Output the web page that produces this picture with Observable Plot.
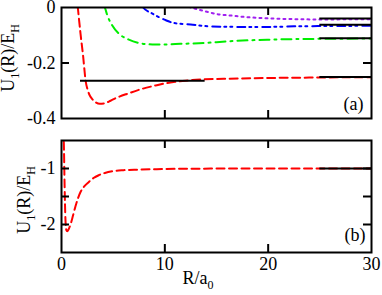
<!DOCTYPE html>
<html><head><meta charset="utf-8">
<script src="https://cdn.jsdelivr.net/npm/d3@7"></script>
<script src="https://cdn.jsdelivr.net/npm/@observablehq/plot@0.6"></script>
<style>
body{margin:0;background:#fff}
#c{width:382px;height:295px;position:relative;overflow:hidden}
#c svg{display:block;background:#fff;overflow:visible}
</style>
</head><body><div id="c"></div>
<script>
// ---------- data ----------
const xTickLabels = [0, 10, 20, 30];
const xInnerTicks = [10, 20];
const yTicksA = [0, -0.2, -0.4];
const yInnerTicksA = [-0.2];
const yTicksB = [-1, -2];
const yInnerTicksB = [-1, -1.5, -2];

// panel (a) curves
const redA_R = [1.45, 1.58, 1.84, 2.1, 2.33, 2.55, 2.75, 2.97, 3.29, 3.7, 4.1, 4.75, 5.23, 6.52, 7.82, 9.11, 10.4, 11.7, 13.0, 15.7, 19.9, 23.1, 26, 30];
const redA_U = [0.05, 0, -0.094, -0.178, -0.263, -0.299, -0.318, -0.330, -0.341, -0.347, -0.346, -0.336, -0.327, -0.309, -0.293, -0.281, -0.271, -0.265, -0.260, -0.257, -0.254, -0.253, -0.252, -0.251];
const greenA_R = [4.1, 4.2, 4.43, 4.9, 5.55, 6.52, 7.49, 8.79, 10.1, 11.5, 13.8, 16.05, 18.3, 19.9, 22.5, 24.8, 30];
const greenA_U = [0.01, 0, -0.028, -0.064, -0.094, -0.116, -0.128, -0.133, -0.133, -0.131, -0.128, -0.122, -0.118, -0.116, -0.114, -0.113, -0.112];
const blueA_R = [7.8, 7.9, 8.8, 10.1, 10.9, 12.5, 14.4, 17.7, 19.9, 22.5, 24.8, 30];
const blueA_U = [0.005, 0, -0.022, -0.046, -0.056, -0.061, -0.068, -0.070, -0.070, -0.068, -0.067, -0.066];
const violetA_R = [12.3, 12.5, 12.9, 13.8, 15.1, 16.4, 17.7, 19.3, 20.6, 22.5, 24.8, 30];
const violetA_U = [0.003, 0, -0.004, -0.013, -0.024, -0.029, -0.034, -0.038, -0.040, -0.042, -0.043, -0.042];

// reference levels (black)
const levelsA = [-1/4, -1/9, -1/16, -1/25];
const levelRange = [25, 30];
const boundA_U = -0.264;
const boundA_R = [1.84, 13.9];

// panel (b) curve
const redB_R = [0.18, 0.22, 0.3, 0.38, 0.47, 0.55, 0.7, 0.87, 1.1, 1.36, 1.6, 1.84, 2.2, 2.65, 3.1, 3.6, 4.2, 4.9, 6, 7.5, 9.8, 13, 20, 30];
const redB_U = [-0.3, -0.5, -1.3, -1.9, -2.1, -2.12, -2.08, -2.0, -1.85, -1.67, -1.53, -1.42, -1.32, -1.24, -1.17, -1.12, -1.08, -1.05, -1.03, -1.02, -1.01, -1.003, -1.0, -1.0];
const levelB = -1;

// ---------- helpers ----------
const zip = (R, U) => R.map((r, i) => ({R: r, U: U[i]}));
const FONT = "'Liberation Serif', 'Times New Roman', serif";
const W = 382, ML = 61, MR = 11;
const PW = W - ML - MR;
const TL = 8; // inner tick length
const fmt = d => String(d);

function innerTicks(xt, yt, PH) {
  return [
    Plot.tickX(xt, {x: d => d, insetBottom: PH - TL, strokeWidth: 2}),
    Plot.tickX(xt, {x: d => d, insetTop: PH - TL, strokeWidth: 2}),
    Plot.tickY(yt, {y: d => d, insetRight: PW - TL, strokeWidth: 2}),
    Plot.tickY(yt, {y: d => d, insetLeft: PW - TL, strokeWidth: 2})
  ];
}

function ylabel(svg, x, y) {
  const t = d3.select(svg).append("text")
    .attr("transform", `translate(${x},${y}) rotate(-90)`)
    .attr("text-anchor", "middle")
    .attr("font-size", 18).attr("fill", "black");
  t.append("tspan").text("U");
  t.append("tspan").attr("font-size", 12).attr("dy", 5).text("1");
  t.append("tspan").attr("dy", -5).text("(R)/E");
  t.append("tspan").attr("font-size", 12).attr("dy", 5).text("H");
}

function serifify(svg) {
  d3.select(svg).selectAll("text").attr("font-family", "Liberation Serif").style("font-family", FONT);
}

// ---------- panel (a) ----------
const HA = 130, MTA = 7, MBA = 12;
const PHA = HA - MTA - MBA;
const lineOpts = {x: "R", y: "U", strokeWidth: 2, curve: "monotone-x", clip: true};
const plotA = Plot.plot({
  width: W, height: HA,
  marginLeft: ML, marginRight: MR, marginTop: MTA, marginBottom: MBA,
  style: {fontFamily: FONT, fontSize: "18px", background: "white", color: "black", overflow: "visible"},
  x: {domain: [0, 30], axis: null},
  y: {domain: [-0.4, 0]},
  marks: [
    Plot.line(zip(redA_R, redA_U), {...lineOpts, stroke: "#ff0000", strokeDasharray: "8,4.5"}),
    Plot.line(zip(greenA_R, greenA_U), {...lineOpts, stroke: "#00ee00", strokeDasharray: "10,5,2,5"}),
    Plot.line(zip(blueA_R, blueA_U), {...lineOpts, stroke: "#0000ff", strokeDasharray: "8,4,2,4,2,5"}),
    Plot.line(zip(violetA_R, violetA_U), {...lineOpts, stroke: "#a020f0", strokeDasharray: "2,4"}),
    Plot.ruleY(levelsA, {x1: levelRange[0], x2: levelRange[1], stroke: "black", strokeWidth: 2}),
    Plot.ruleY([boundA_U], {x1: boundA_R[0], x2: boundA_R[1], stroke: "black", strokeWidth: 2}),
    ...innerTicks(xInnerTicks, yInnerTicksA, PHA),
    Plot.axisY(yTicksA, {tickSize: 0, tickPadding: 6, tickFormat: fmt, fontSize: 18, label: null}),
    Plot.frame({strokeWidth: 2}),
    Plot.text(["(a)"], {frameAnchor: "bottom-right", dx: -8, dy: -9, fontSize: 18, textAnchor: "end", lineAnchor: "bottom"})
  ]
});
ylabel(plotA, 14, 58);
serifify(plotA);

// ---------- panel (b) ----------
const HB = 165, MTB = 10, MBB = 43;
const PHB = HB - MTB - MBB;
const plotB = Plot.plot({
  width: W, height: HB,
  marginLeft: ML, marginRight: MR, marginTop: MTB, marginBottom: MBB,
  style: {fontFamily: FONT, fontSize: "18px", background: "white", color: "black", overflow: "visible"},
  x: {domain: [0, 30]},
  y: {domain: [-2.5, -0.5]},
  marks: [
    Plot.line(zip(redB_R, redB_U), {...lineOpts, stroke: "#ff0000", strokeDasharray: "8,4.5"}),
    Plot.ruleY([levelB], {x1: levelRange[0], x2: levelRange[1], stroke: "black", strokeWidth: 2}),
    ...innerTicks(xInnerTicks, yInnerTicksB, PHB),
    Plot.axisY(yTicksB, {tickSize: 0, tickPadding: 6, tickFormat: fmt, fontSize: 18, label: null}),
    Plot.axisX(xTickLabels, {tickSize: 0, tickPadding: 5, tickFormat: fmt, fontSize: 18, label: null}),
    Plot.frame({strokeWidth: 2}),
    Plot.text(["(b)"], {frameAnchor: "bottom-right", dx: -6, dy: -12, fontSize: 18, textAnchor: "end", lineAnchor: "bottom"})
  ]
});
ylabel(plotB, 30, 70);
{
  const t = d3.select(plotB).append("text")
    .attr("x", 198).attr("y", 154)
    .attr("font-size", 18).attr("fill", "black");
  t.append("tspan").text("R/a");
  t.append("tspan").attr("font-size", 12).attr("dy", 5).text("0");
}
serifify(plotB);

document.getElementById("c").append(plotA, plotB);
</script>
</body></html>
